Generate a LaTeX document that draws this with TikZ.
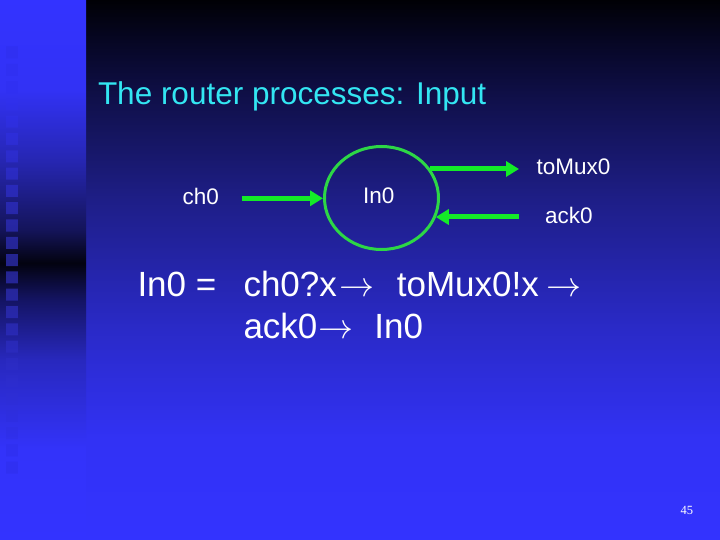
\documentclass[tikz,border=0pt]{standalone}
\usepackage{fix-cm}
\usepackage{fontspec}
\setmainfont{Liberation Sans}
\newfontfamily\pgnumfont{Liberation Serif}
\usetikzlibrary{arrows.meta,shapes.geometric}
\definecolor{arrowgreen}{RGB}{20,235,40}
\definecolor{circgreen}{RGB}{45,215,70}
\definecolor{titlecyan}{RGB}{51,230,242}
\pgfdeclareverticalshading{mainbg}{634pt}{rgb(0pt)=(0.2,0.2,1); rgb(100pt)=(0.196,0.196,0.96); rgb(210pt)=(0.165,0.165,0.785); rgb(340pt)=(0.118,0.118,0.53); rgb(440pt)=(0.063,0.063,0.294); rgb(500pt)=(0.024,0.024,0.137); rgb(540pt)=(0,0,0.02)}
\pgfdeclareverticalshading{stripbg}{86pt}{rgb(0pt)=(0.2,0.2,1); rgb(90pt)=(0.2,0.2,0.98); rgb(180pt)=(0.157,0.157,0.745); rgb(240pt)=(0.078,0.078,0.39); rgb(277pt)=(0.01,0.01,0.06); rgb(310pt)=(0.078,0.078,0.35); rgb(380pt)=(0.15,0.15,0.7); rgb(450pt)=(0.196,0.196,0.96); rgb(540pt)=(0.2,0.2,1)}
\pgfdeclareverticalshading{sqbg}{12pt}{rgb(0pt)=(0.19,0.19,0.95); rgb(90pt)=(0.19,0.19,0.95); rgb(277pt)=(0.14,0.14,0.55); rgb(450pt)=(0.19,0.19,0.95); rgb(540pt)=(0.19,0.19,0.95)}
\tikzset{
  lbl/.style={text=white, inner sep=0pt, outer sep=0pt, anchor=base west, font=\fontsize{22.5}{27}\selectfont},
  eqtext/.style={text=white, inner sep=0pt, outer sep=0pt, anchor=base west, font=\fontsize{35}{42}\selectfont},
  arr/.style={line width=5pt, draw=arrowgreen, -{Triangle[length=13pt,width=15pt]}},
  bgbox/.style={inner sep=0pt, outer sep=0pt, anchor=north west}
}
\begin{document}
\begin{tikzpicture}[x=1pt,y=-1pt]
\useasboundingbox (0,0) rectangle (720,540);
% backgrounds
\node[bgbox] (mainpanel) at (86,0) {\pgfuseshading{mainbg}};
\node[bgbox] (strip) at (0,0) {\pgfuseshading{stripbg}};
\begin{scope}
  \clip foreach \i in {0,...,24} {(6,{46.5+17.3*\i}) rectangle ++(12,12)};
  \node[bgbox] (squares) at (6,0) {\pgfuseshading{sqbg}};
\end{scope}
% title
\node[text=titlecyan, inner sep=0pt, outer sep=0pt, anchor=base west, font=\fontsize{31.5}{38}\selectfont] (title) at (98,104.5) {The router processes: Input};
% diagram
\node[ellipse, draw=circgreen, line width=3pt, minimum width=114pt, minimum height=103pt, inner sep=0pt] (in0) at (381.5,198) {};
\node[lbl] (in0lbl) at (363,204) {In0};
\node[lbl] (ch0lbl) at (182.5,204.3) {ch0};
\node[lbl] (tmlbl) at (536.5,175) {toMux0};
\node[lbl] (acklbl) at (545,224) {ack0};
\coordinate (chstart) at (241.5,198.3);
\coordinate (tmend) at (519,169);
\coordinate (ackstart) at (519,217);
\draw[arr] (chstart) -- (chstart -| in0.west);
\draw[arr] (tmend -| in0.31) -- (tmend);
\draw[arr] (ackstart) -- (ackstart -| in0.-20);
% equation
\node[eqtext] (eqlhs) at (137.5,296) {In0 =};
\node[eqtext] (eqline1) at (243.5,296) {ch0?x\hspace{3pt}$\rightarrow$\hspace{22pt}toMux0!x\hspace{8pt}$\rightarrow$};
\node[eqtext] (eqline2) at (243.5,338) {ack0\hspace{1pt}$\rightarrow$\hspace{21pt}In0};
% page number
\node[text=white, inner sep=0pt, outer sep=0pt, anchor=base west, font=\pgnumfont\fontsize{12.5}{15}\selectfont] (pgnum) at (680.5,514.5) {45};
\end{tikzpicture}
\end{document}
